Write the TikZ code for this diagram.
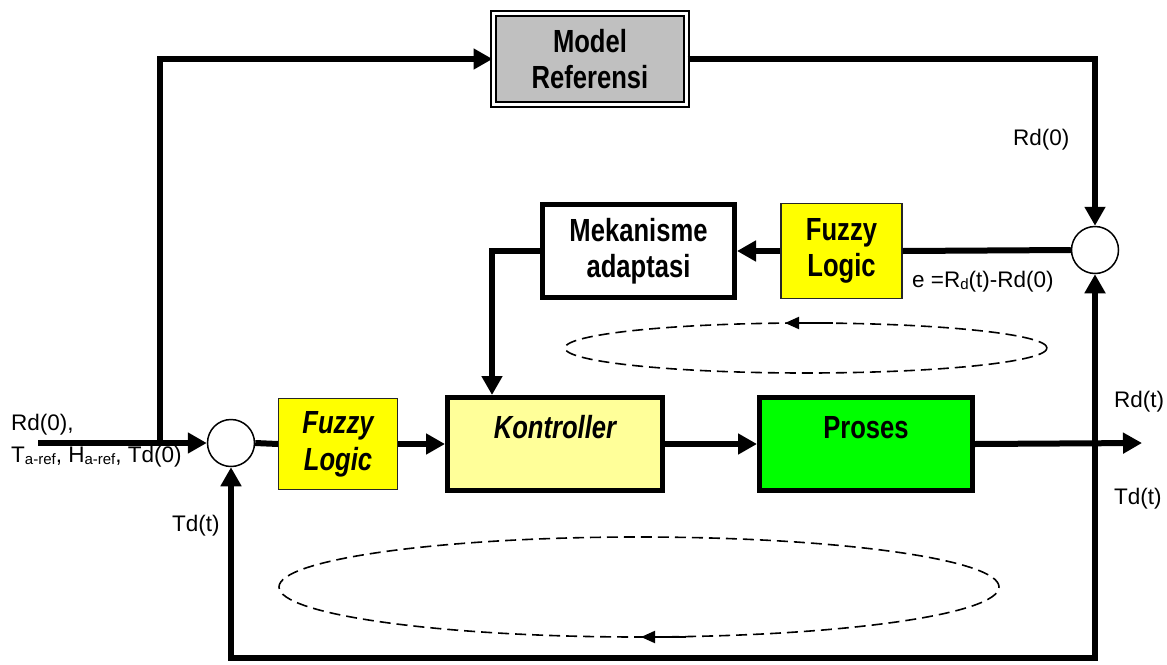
\documentclass[tikz,border=0pt]{standalone}
\usepackage{fontspec}
\setmainfont{Liberation Sans}
\newfontfamily\nbf{Liberation Sans}[FakeStretch=0.8]
\usetikzlibrary{arrows.meta}
\definecolor{fzyellow}{RGB}{255,255,0}
\definecolor{koyellow}{RGB}{255,255,153}
\definecolor{prgreen}{RGB}{0,255,0}
\definecolor{mrgray}{RGB}{192,192,192}
\newcommand\sbx[1]{\raisebox{-0.25ex}{\fontsize{15}{15}\selectfont #1}}
\begin{document}
\begin{tikzpicture}[x=1pt,y=-1pt,
  >={Triangle[length=19pt,width=20pt]},
  conn/.style={line width=6pt},
  bigbf/.style={font=\nbf\bfseries\fontsize{32}{36}\selectfont, align=center},
  bigbi/.style={font=\nbf\bfseries\itshape\fontsize{32}{37}\selectfont, align=center},
  lbl/.style={font=\fontsize{22.5}{26}\selectfont, inner sep=0pt},
  thinbox/.style={draw=black!85, line width=1.2pt, fill=fzyellow},
  thickbox/.style={draw=black, line width=5pt},
  sumc/.style={draw=black, line width=1.5pt, fill=white, circle, minimum size=47pt, inner sep=0pt},
  loop/.style={line width=1.6pt, dash pattern=on 11pt off 6pt},
  looparr/.style={line width=2pt, -{Triangle[length=14pt,width=12pt]}}
  ]
\useasboundingbox (0,0) rectangle (1167,664);

% boxes
\node[draw=black, double, double distance=3pt, line width=2pt, fill=mrgray,
      minimum width=193pt, minimum height=91pt, bigbf] (mr) at (590,59) {Model\\Referensi};
\node[thickbox, fill=white, minimum width=192pt, minimum height=93pt, bigbf] (me) at (638.5,251) {Mekanisme\\adaptasi};
\node[thinbox, minimum width=121pt, minimum height=95pt, bigbf] (fz2) at (841.5,251) {Fuzzy\\Logic};
\node[sumc] (rc) at (1095,250) {};

\node[sumc] (lc) at (231,443) {};
\node[thinbox, minimum width=119pt, minimum height=91pt, bigbi] (fz1) at (338,444) {Fuzzy\\Logic};
\node[thickbox, fill=koyellow, minimum width=215pt, minimum height=93pt, bigbi,
      text height=23pt, text depth=35pt] (ko) at (555,444) {Kontroller};
\node[thickbox, fill=prgreen, minimum width=213pt, minimum height=93pt, bigbf,
      text height=23pt, text depth=35pt] (pr) at (866,444) {Proses};

% labels
\node[lbl, anchor=base west] (l1) at (1013,145) {Rd(0)};
\node[lbl, anchor=base west] (l2) at (912,287) {e =R\sbx{d}(t)-Rd(0)};
\node[lbl, anchor=base west] (l3) at (11,430) {Rd(0),};
\node[lbl, anchor=base west] (l4) at (11,462) {T\sbx{a-ref}, H\sbx{a-ref}, Td(0)};
\node[lbl, anchor=base west] (l5) at (172,531) {Td(t)};
\node[lbl, anchor=base west] (l6) at (1114,407) {Rd(t)};
\node[lbl, anchor=base west] (l7) at (1114,504) {Td(t)};

% coordinates
\coordinate (in) at (38,443);
\coordinate (jn) at (160,443);
\coordinate (out) at (1142,443);
\coordinate (br) at (1095,658);

% connectors
\draw[conn,->] (in) -- (lc.west);
\draw[conn,->] (jn) |- (mr.west);
\draw[conn,->] (mr.east) -| (rc.north);
\draw[conn] (rc.west) -- (fz2.east);
\draw[conn,->] (fz2.west) -- (me.east);
\draw[conn,->] (me.west) -| ([xshift=47pt]ko.north west);
\draw[conn] (lc.east) -- (fz1.west);
\draw[conn,->] (fz1.east) -- (ko.west);
\draw[conn,->] (ko.east) -- (pr.west);
\draw[conn,->] (pr.east) -- (out);
\draw[conn,<->] (lc.south) |- (br) -- (rc.south);

% loops
\draw[loop] (806,348) ellipse [x radius=241pt, y radius=25pt];
\coordinate (a1s) at (833,323);
\coordinate (a1e) at (785,323);
\draw[looparr] (a1s) -- (a1e);
\draw[loop] (639,587) ellipse [x radius=360pt, y radius=50pt];
\coordinate (a2s) at (686,637);
\coordinate (a2e) at (641,637);
\draw[looparr] (a2s) -- (a2e);
\end{tikzpicture}
\end{document}
